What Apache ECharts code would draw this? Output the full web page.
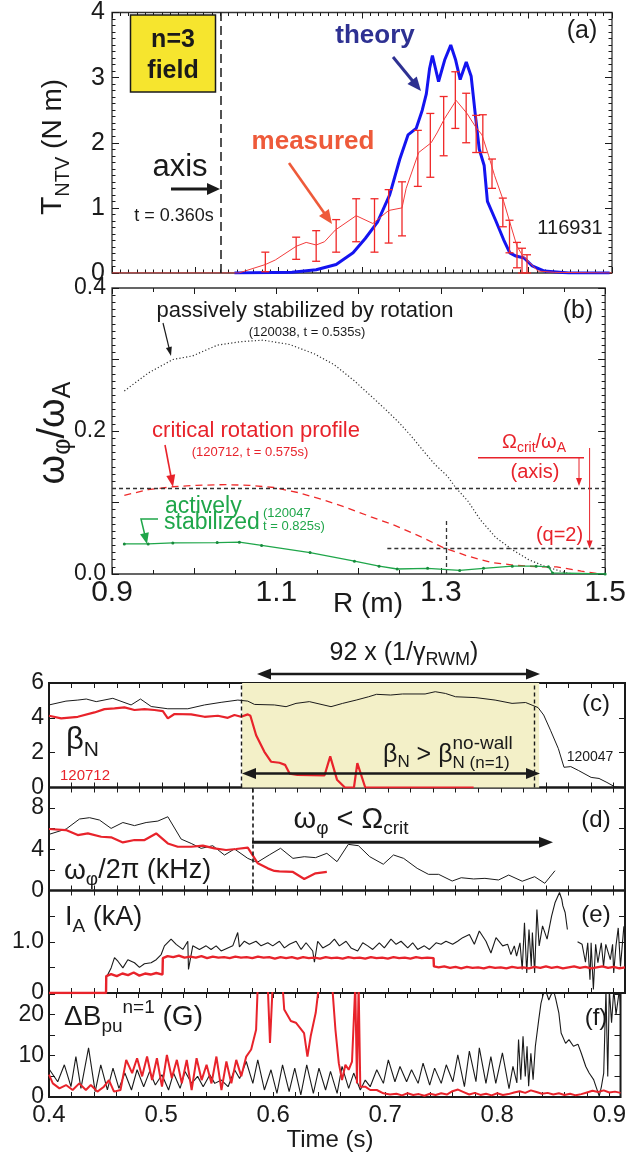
<!DOCTYPE html>
<html><head><meta charset="utf-8">
<script src="https://cdn.jsdelivr.net/npm/echarts@6/dist/echarts.min.js"></script>
<style>html,body{margin:0;padding:0;background:#fff}#c{width:629px;height:1158px}</style>
</head><body><div id="c"></div>
<script>
// ---------- DATA ----------
// (a) NTV torque vs R
const theoryA = [[1.047,0],[1.116,0.01],[1.145,0.05],[1.169,0.13],[1.1893,0.31],[1.2039,0.53],[1.2186,0.78],[1.2332,1.20],[1.2454,1.75],[1.2552,2.12],[1.265,2.22],[1.2723,2.50],[1.2772,2.75],[1.2811,3.14],[1.2845,3.34],[1.2919,2.94],[1.2992,3.27],[1.3065,3.50],[1.3124,3.27],[1.3178,2.97],[1.3251,3.24],[1.331,3.02],[1.3358,2.45],[1.3407,1.90],[1.3466,1.65],[1.3505,1.10],[1.3603,0.81],[1.37,0.51],[1.3774,0.31],[1.3847,0.26],[1.3945,0.23],[1.4042,0.11],[1.4189,0.03],[1.4482,0],[1.4971,0]];
const measuredA = [[0.9,0],[1.052,0],[1.084,0.13],[1.096,0.2],[1.121,0.41],[1.133,0.47],[1.145,0.43],[1.155,0.48],[1.168,0.66],[1.193,0.88],[1.213,0.76],[1.232,0.96],[1.248,1.0],[1.253,1.3],[1.268,1.85],[1.283,2.0],[1.290,2.15],[1.299,2.37],[1.313,2.65],[1.326,2.45],[1.336,2.25],[1.344,2.12],[1.352,1.8],[1.359,1.5],[1.370,1.10],[1.379,0.71],[1.386,0.41],[1.393,0.26],[1.401,0.16],[1.411,0.03],[1.431,0.01],[1.5,0]];
const errR  = [1.084,1.121,1.145,1.169,1.193,1.215,1.232,1.248,1.267,1.282,1.298,1.312,1.325,1.337,1.345,1.356,1.369,1.377,1.386,1.392,1.398];
const errLo = [0.02,0.21,0.18,0.32,0.48,0.32,0.46,0.57,1.33,1.47,1.80,2.22,2.00,1.85,1.85,1.30,0.71,0.31,0.08,0,0];
const errHi = [0.32,0.55,0.65,0.82,1.14,1.14,1.28,1.40,2.19,2.45,2.71,3.09,2.76,2.42,2.43,1.75,1.15,0.81,0.47,0.38,0.28];
const axisR = 1.0336;
// (b) rotation profiles
const passiveB = [[0.915,0.256],[0.944,0.281],[0.974,0.300],[0.998,0.305],[1.028,0.320],[1.057,0.325],[1.084,0.327],[1.116,0.321],[1.146,0.308],[1.170,0.293],[1.195,0.270],[1.215,0.249],[1.232,0.231],[1.249,0.212],[1.264,0.193],[1.279,0.172],[1.293,0.153],[1.308,0.137],[1.318,0.121],[1.333,0.102],[1.348,0.076],[1.367,0.051],[1.387,0.034],[1.407,0.020],[1.426,0.011],[1.451,0.002],[1.461,0]];
const criticalB = [[0.915,0.110],[0.944,0.118],[0.974,0.122],[1.003,0.124],[1.038,0.125],[1.067,0.124],[1.097,0.121],[1.126,0.114],[1.156,0.104],[1.185,0.093],[1.215,0.080],[1.244,0.068],[1.274,0.053],[1.303,0.037],[1.333,0.025],[1.362,0.016],[1.392,0.012],[1.421,0.010],[1.441,0.010],[1.471,0.004],[1.495,0.0]];
const activeB = [[0.915,0.042],[0.944,0.042],[0.974,0.0435],[1.028,0.044],[1.055,0.0445],[1.082,0.040],[1.141,0.030],[1.195,0.018],[1.225,0.011],[1.247,0.007],[1.284,0.008],[1.323,0.005],[1.352,0.008],[1.387,0.011],[1.416,0.011],[1.431,0.010],[1.436,0.0015],[1.5,0]];
const critAxis = 0.124, critQ2 = 0.0355, q2R = 1.307, q2LineStart = 1.235, q2VTop = 0.074;
// (c) beta_N
const betaBlack = [[0.4,4.74],[0.415,4.96],[0.4255,5.02],[0.433,5.08],[0.4418,4.93],[0.4565,5.12],[0.4727,4.74],[0.481,5.08],[0.4905,4.65],[0.5052,4.52],[0.5229,4.52],[0.5377,4.74],[0.5524,4.89],[0.5672,5.02],[0.576,4.96],[0.582,4.77],[0.5996,4.74],[0.6099,4.64],[0.6187,4.83],[0.6305,4.93],[0.6497,4.64],[0.66,4.83],[0.672,5.02],[0.683,5.21],[0.69,5.35],[0.7025,5.31],[0.713,5.37],[0.733,5.37],[0.742,5.5],[0.751,5.4],[0.76,5.21],[0.778,5.16],[0.795,5.02],[0.81,4.83],[0.822,4.88],[0.833,4.59],[0.838,4.16],[0.844,3.29],[0.851,2.23],[0.856,1.16],[0.862,1.2],[0.869,0.97],[0.88,0.58],[0.887,0.52],[0.894,0.29],[0.901,0.04],[0.91,0]];
const betaRed = [[0.4,4.12],[0.4108,3.97],[0.4255,4.06],[0.4403,4.31],[0.4491,4.5],[0.458,4.54],[0.4668,4.6],[0.4757,4.45],[0.4846,4.5],[0.4934,4.45],[0.5008,4.39],[0.5052,3.97],[0.5111,4.22],[0.5259,4.2],[0.5377,4.06],[0.5495,4.12],[0.5583,4.0],[0.5642,4.16],[0.5701,4.06],[0.576,4.2],[0.5783,4.12],[0.5834,3.0],[0.5907,2.05],[0.5966,1.48],[0.604,1.42],[0.609,1.3],[0.613,0.8],[0.62,0.72],[0.644,0.7],[0.649,1.79],[0.655,0.45],[0.662,0],[0.670,0],[0.673,1.4],[0.680,0],[0.776,0]];
const shadeT = [0.571, 0.834];
// (d) rotation frequency
const omegaBlack = [[0.4,5.45],[0.4152,5.97],[0.427,6.94],[0.4359,7.07],[0.4447,6.84],[0.455,6.03],[0.4654,6.6],[0.4757,6.3],[0.486,6.6],[0.4964,6.74],[0.5052,7.16],[0.517,4.99],[0.5259,4.57],[0.5347,4.09],[0.545,4.35],[0.5554,3.44],[0.5642,4.03],[0.576,3.12],[0.5843,2.73],[0.595,3.45],[0.605,4.1],[0.616,3.12],[0.626,3.28],[0.636,3.19],[0.646,3.61],[0.655,2.8],[0.665,4.48],[0.674,4.35],[0.684,3.28],[0.696,2.55],[0.705,3.45],[0.714,3.12],[0.726,2.15],[0.736,1.57],[0.745,1.57],[0.757,0.92],[0.765,1.24],[0.776,1.12],[0.786,1.18],[0.798,1.02],[0.807,1.5],[0.819,0.9],[0.83,1.34],[0.839,0.7],[0.848,1.92]];
const omegaRed = [[0.4,5.97],[0.415,5.87],[0.4255,5.38],[0.4344,5.54],[0.4462,5.22],[0.455,5.16],[0.4654,4.67],[0.4757,4.9],[0.4846,4.9],[0.4949,5.54],[0.5052,4.57],[0.514,4.25],[0.5259,4.25],[0.5362,4.35],[0.5465,4.09],[0.5568,3.93],[0.5657,4.03],[0.576,4.16],[0.5849,2.64],[0.5937,2.15],[0.5996,1.9],[0.604,1.85],[0.616,1.8],[0.626,1.12],[0.636,1.67],[0.646,1.8]];
const critT = 0.580;
// (e) I_A
const iaBlack = [[0.4,0],[0.450,0],[0.4506,0.3],[0.455,0.49],[0.458,0.69],[0.461,0.62],[0.4654,0.49],[0.4698,0.65],[0.4757,0.59],[0.4801,0.50],[0.4845,0.57],[0.4904,0.59],[0.4949,0.65],[0.4993,0.75],[0.5022,0.92],[0.5081,1.05],[0.5126,0.95],[0.5185,0.85],[0.5229,1.01],[0.5235,0.46],[0.5273,0.92],[0.5332,0.85],[0.5391,0.92],[0.5435,0.85],[0.548,0.92],[0.5524,0.82],[0.5583,0.88],[0.5627,0.92],[0.5671,1.18],[0.5686,0.90],[0.573,1.01],[0.5774,0.95],[0.5833,1.01],[0.5878,0.92],[0.5937,0.98],[0.5981,0.92],[0.604,1.01],[0.6084,0.88],[0.6129,0.95],[0.6188,1.01],[0.6232,0.85],[0.6276,0.98],[0.6335,0.82],[0.635,0.6],[0.6379,1.01],[0.6424,0.88],[0.6483,0.95],[0.6527,1.05],[0.6571,0.92],[0.663,1.01],[0.6674,0.88],[0.6733,0.82],[0.6778,0.98],[0.6822,0.92],[0.6866,0.85],[0.6925,0.98],[0.6969,0.88],[0.7028,1.05],[0.7073,0.95],[0.7117,1.01],[0.7176,0.88],[0.722,0.98],[0.7264,0.85],[0.7323,0.92],[0.7368,0.85],[0.7427,0.98],[0.7471,0.95],[0.7515,1.01],[0.7574,0.95],[0.7618,1.01],[0.7663,1.08],[0.7722,1.14],[0.7766,0.95],[0.781,1.21],[0.7869,1.01],[0.7913,0.78],[0.7958,1.08],[0.8017,0.92],[0.8061,0.95],[0.809,0.75],[0.812,0.92],[0.814,0.72],[0.817,0.98],[0.819,0.46],[0.821,1.37],[0.823,0.39],[0.825,1.24],[0.827,0.52],[0.828,1.18],[0.830,0.39],[0.832,1.63],[0.834,0.92],[0.837,1.31],[0.841,1.05],[0.845,1.5],[0.848,1.76],[0.852,1.96],[0.854,1.83],[0.855,1.70],[0.857,1.57],[0.859,1.24],[0.863,null],[0.868,1.0],[0.872,0.95],[0.875,0.6],[0.877,0.98],[0.879,0.26],[0.880,0.98],[0.882,0.07],[0.884,0.95],[0.886,0.59],[0.889,0.98],[0.891,0.52],[0.893,0.95],[0.897,0.65],[0.899,0.95],[0.900,0.39],[0.902,0.92],[0.904,1.27],[0.906,0.52],[0.909,1.3]];
const iaRed = [[0.4,0],[0.4505,0],[0.4507,0.33],[0.455,0.37],[0.46,0.33],[0.465,0.38],[0.47,0.35],[0.475,0.40],[0.48,0.34],[0.485,0.38],[0.49,0.36],[0.495,0.39],[0.5005,0.36],[0.5008,0.68],[0.505,0.72],[0.51,0.70],[0.515,0.73],[0.52,0.69],[0.525,0.71],[0.53,0.69],[0.535,0.72],[0.54,0.68],[0.545,0.71],[0.55,0.69],[0.555,0.70],[0.56,0.68],[0.565,0.71],[0.57,0.69],[0.575,0.70],[0.58,0.68],[0.585,0.71],[0.59,0.69],[0.595,0.70],[0.6,0.67],[0.605,0.70],[0.61,0.68],[0.615,0.70],[0.62,0.67],[0.625,0.70],[0.63,0.68],[0.635,0.69],[0.64,0.67],[0.645,0.70],[0.65,0.68],[0.655,0.69],[0.66,0.67],[0.665,0.70],[0.67,0.68],[0.675,0.69],[0.68,0.67],[0.685,0.70],[0.69,0.68],[0.695,0.69],[0.70,0.67],[0.705,0.70],[0.71,0.68],[0.715,0.69],[0.72,0.67],[0.725,0.70],[0.73,0.68],[0.735,0.69],[0.7405,0.68],[0.7408,0.52],[0.745,0.50],[0.75,0.52],[0.755,0.49],[0.76,0.51],[0.765,0.48],[0.77,0.51],[0.775,0.49],[0.78,0.50],[0.785,0.48],[0.79,0.51],[0.795,0.49],[0.80,0.50],[0.805,0.48],[0.81,0.51],[0.815,0.49],[0.82,0.50],[0.825,0.48],[0.83,0.51],[0.835,0.49],[0.84,0.52],[0.845,0.49],[0.85,0.51],[0.855,0.48],[0.86,0.50],[0.865,0.52],[0.87,0.49],[0.875,0.51],[0.88,0.48],[0.885,0.50],[0.89,0.52],[0.895,0.49],[0.90,0.51],[0.905,0.48],[0.91,0.50]];
// (f) dB_pu
const dbBlack = [[0.4,6.0],[0.4005,6.6],[0.4078,3.7],[0.4137,7.8],[0.4196,2.5],[0.424,9.8],[0.4285,2.1],[0.4353,11.9],[0.4412,1.3],[0.4462,7.8],[0.4521,1.7],[0.4571,7.0],[0.4624,2.1],[0.4677,5.8],[0.4736,1.7],[0.4786,6.6],[0.4845,2.5],[0.4898,6.2],[0.4949,2.9],[0.5008,5.4],[0.5067,1.7],[0.5111,5.8],[0.517,2.1],[0.5214,6.2],[0.5273,3.3],[0.5326,5.0],[0.5376,2.5],[0.5435,5.4],[0.5479,3.3],[0.5538,4.1],[0.5598,2.5],[0.5656,6.6],[0.5701,4.5],[0.576,8.6],[0.5819,3.3],[0.5863,9.0],[0.5922,1.7],[0.5981,6.6],[0.6034,0.9],[0.6084,7.8],[0.6143,1.3],[0.6193,7.0],[0.6247,0.5],[0.63,7.8],[0.6359,0.9],[0.6409,7.0],[0.6468,1.7],[0.6512,6.2],[0.6571,0.9],[0.6615,7.4],[0.6674,2.1],[0.6719,5.8],[0.6778,1.7],[0.6822,4.1],[0.6866,2.5],[0.6925,6.6],[0.6984,3.3],[0.7028,9.0],[0.7087,3.7],[0.7132,7.4],[0.7191,3.7],[0.7235,6.6],[0.7294,3.3],[0.7338,8.2],[0.7397,2.9],[0.7441,7.0],[0.75,3.3],[0.7545,7.8],[0.7604,3.7],[0.7648,10.2],[0.7707,2.5],[0.7751,11.1],[0.781,3.7],[0.784,11.9],[0.7899,3.3],[0.7943,9.8],[0.7987,3.3],[0.8046,10.7],[0.8105,2.0],[0.814,7.4],[0.8175,3.4],[0.819,13.9],[0.821,4.2],[0.823,14.7],[0.825,5],[0.8266,12.3],[0.828,2.6],[0.830,10.6],[0.832,4.2],[0.834,12.3],[0.837,18.7],[0.839,22.7],[0.841,24.8],[0.843,26],[0.846,23.5],[0.850,26],[0.852,24],[0.855,20.3],[0.857,15.5],[0.861,13],[0.864,13.9],[0.868,12.3],[0.872,12.8],[0.875,10.6],[0.879,7.4],[0.882,5.8],[0.886,4.2],[0.890,1],[0.891,0.2],[0.893,2.6],[0.895,5.8],[0.897,26],[0.8986,5],[0.900,26],[0.902,18],[0.904,26],[0.906,20],[0.909,26],[0.91,22]];
const dbRed = [[0.4,5.4],[0.4034,3.3],[0.4093,2.1],[0.4152,2.9],[0.4211,1.7],[0.427,3.3],[0.4329,1.7],[0.4373,2.9],[0.4432,1.3],[0.449,2.5],[0.4535,4.1],[0.458,1.3],[0.4638,1.7],[0.4689,9.0],[0.4742,5.8],[0.4786,9.4],[0.4831,5.0],[0.4875,9.8],[0.492,4.1],[0.4963,9.4],[0.5008,2.5],[0.5052,10.2],[0.5096,4.6],[0.5141,9.0],[0.5185,3.3],[0.5229,9.0],[0.5273,1.7],[0.5317,9.4],[0.5362,4.1],[0.5406,7.8],[0.545,3.3],[0.5494,9.8],[0.5539,1.7],[0.5583,8.6],[0.5627,3.3],[0.5671,9.0],[0.5716,5.0],[0.576,9.8],[0.5804,11.5],[0.5848,16.3],[0.5863,27],[0.5952,27],[0.5972,13.1],[0.5996,27],[0.6084,27],[0.6099,21.2],[0.6158,18.4],[0.6203,18.0],[0.6276,15.5],[0.6306,9.8],[0.6335,14.7],[0.638,20.4],[0.6409,27],[0.6527,27],[0.6556,16.3],[0.6586,8.2],[0.6615,4.1],[0.6645,7.8],[0.6674,6.6],[0.6704,8.6],[0.6733,27],[0.6748,3.3],[0.6763,27],[0.6778,2.5],[0.6822,2.5],[0.6866,1.7],[0.6925,1.7],[0.6984,0.9],[0.7043,0.6],[0.71,0.8],[0.715,0.4],[0.72,0.9],[0.725,0.5],[0.73,0.7],[0.735,0.3],[0.74,0.8],[0.745,0.5],[0.75,0.9],[0.755,0.6],[0.76,1.4],[0.765,1.8],[0.77,1.2],[0.775,0.6],[0.78,1.0],[0.785,0.5],[0.79,0.8],[0.795,0.4],[0.80,0.9],[0.805,0.5],[0.81,0.7],[0.815,1.1],[0.82,1.4],[0.825,1.0],[0.83,1.6],[0.835,1.2],[0.84,0.8],[0.845,1.0],[0.85,0.6],[0.855,0.9],[0.86,0.5],[0.865,0.8],[0.87,0.4],[0.875,0.7],[0.88,1.1],[0.885,1.5],[0.89,1.2],[0.895,1.6],[0.90,1.1],[0.905,1.3],[0.91,1.0]];

// ---------- STYLE / LAYOUT ----------
const FONT = '"Liberation Sans", Arial, Helvetica, sans-serif';
const BLK = '#1a1a1a', RED = '#e8232b', GRN = '#1fa64a', BLUE = '#1414f0', NAVY = '#2e3192', ORNG = '#ee5a3a';
const grids = [
  {left:112, top:6, width:500, height:267, borderColor:'#333', borderWidth:1.3},
  {left:112, top:288, width:500, height:286, borderColor:'#333', borderWidth:1.3},
  {left:49, top:683, width:576, height:104.5, borderColor:BLK, borderWidth:2},
  {left:49, top:787.5, width:576, height:103, borderColor:BLK, borderWidth:2},
  {left:49, top:890.5, width:576, height:102.5, borderColor:BLK, borderWidth:2},
  {left:49, top:993, width:576, height:104, borderColor:BLK, borderWidth:2}
].map(g => Object.assign({show:true, backgroundColor:'transparent', containLabel:false}, g));

const xAxes = [], yAxes = [];
function addAxis(list, dim, gi, o){
  const common = {type:'value', gridIndex:gi, min:o.min, max:o.max, interval:o.interval,
    axisLine:{show:false, onZero:false}, splitLine:{show:false},
    axisTick:{show:true, inside:true, length:o.tl||6, lineStyle:{color:BLK, width:1}},
    minorTick:{show:!!o.ms, splitNumber:o.ms||2, length:o.ml||3, lineStyle:{color:BLK, width:1}},
    minorSplitLine:{show:false}};
  const lab = o.fmt ? {show:true, formatter:o.fmt, fontSize:o.fs, fontFamily:FONT, color:BLK, margin:o.mg} : {show:false};
  list.push(Object.assign({}, common, {position: dim==='x'?'bottom':'left', axisLabel: lab}));
  list.push(Object.assign({}, common, {position: dim==='x'?'top':'right', axisLabel:{show:false}}));
}
// (a)
addAxis(xAxes,'x',0,{min:0.9,max:1.5,interval:0.1,ms:10,tl:6,ml:3.5});
addAxis(yAxes,'y',0,{min:0,max:4,interval:1,ms:10,tl:7,ml:3.5,fmt:v=>String(v),fs:25,mg:7});
// (b)
addAxis(xAxes,'x',1,{min:0.9,max:1.5,interval:0.1,ms:2,tl:6,ml:4,fmt:v=>(Math.round(v*10)%2===1?v.toFixed(1):''),fs:30,mg:4});
addAxis(yAxes,'y',1,{min:0,max:0.4,interval:0.1,ms:10,tl:7,ml:3.5,fmt:v=>(Math.round(v*10)%2===0?v.toFixed(1):''),fs:23,mg:6});
// (c)-(f)
for (let g=2; g<=5; g++){
  addAxis(xAxes,'x',g,{min:0.4,max:0.91,interval:0.02,tl:5,
    fmt: g===5 ? (v=>(Math.round(v*100)%10===0 && v<0.905 ? v.toFixed(1) : '')) : null, fs:24, mg:6});
}
addAxis(yAxes,'y',2,{min:0,max:6,interval:2,tl:6,fmt:v=>String(v),fs:23,mg:5});
addAxis(yAxes,'y',3,{min:0,max:10,interval:2,tl:6,fmt:v=>(v%4===0?String(v):''),fs:23,mg:5});
addAxis(yAxes,'y',4,{min:0,max:2,interval:0.5,tl:6,fmt:v=>(v===0?'0':(v===1?'1.0':'')),fs:23,mg:5});
addAxis(yAxes,'y',5,{min:0,max:25.2,interval:5,tl:6,fmt:v=>(v===0||v===10||v===20?String(v):''),fs:23,mg:5});

function ln(gi, data, color, width, extra){
  return Object.assign({type:'line', xAxisIndex:2*gi, yAxisIndex:2*gi, data, showSymbol:false,
    symbol:'none', lineStyle:{color, width}, z:3, animation:false, silent:true, connectNulls:false}, extra||{});
}
const dashBlk = {type:[4,3], color:'#333', width:1.3};
const series = [
  ln(0, theoryA, BLUE, 3, {markLine:{silent:true, symbol:['none','none'], label:{show:false},
     lineStyle:{type:[9,5], color:BLK, width:1.5}, data:[{xAxis:axisR}]}}),
  ln(0, measuredA, '#f23c3c', 1, {z:4}),
  {type:'custom', xAxisIndex:0, yAxisIndex:0, z:4, silent:true, animation:false,
   data: errR.map((r,i)=>[r, errLo[i], errHi[i]]), encode:{x:0, y:[1,2]},
   renderItem:(p, api)=>{
     const a = api.coord([api.value(0), api.value(1)]), b = api.coord([api.value(0), api.value(2)]);
     const st = {stroke:'#f02828', lineWidth:1.3};
     return {type:'group', children:[
       {type:'line', shape:{x1:a[0],y1:a[1],x2:b[0],y2:b[1]}, style:st},
       {type:'line', shape:{x1:a[0]-4,y1:a[1],x2:a[0]+4,y2:a[1]}, style:st},
       {type:'line', shape:{x1:b[0]-4,y1:b[1],x2:b[0]+4,y2:b[1]}, style:st}]};
   }},
  ln(1, passiveB, '#333', 1.2, {lineStyle:{color:'#333', width:1.2, type:[1.2,2.2]},
     markLine:{silent:true, symbol:['none','none'], label:{show:false}, lineStyle:dashBlk,
       data:[{yAxis:critAxis}, [{coord:[q2LineStart,critQ2]},{coord:[1.5,critQ2]}], [{coord:[q2R,0]},{coord:[q2R,q2VTop]}]]}}),
  ln(1, criticalB, '#ee2a2a', 1.3, {lineStyle:{color:'#ee2a2a', width:1.3, type:[7,5]}}),
  ln(1, activeB, GRN, 1.3, {showSymbol:true, symbol:'circle', symbolSize:3, itemStyle:{color:'#178a3c'}}),
  ln(2, betaBlack, BLK, 1, {
     markArea:{silent:true, itemStyle:{color:'#f3f0c8'}, data:[[{xAxis:shadeT[0]},{xAxis:shadeT[1]}]]},
     markLine:{silent:true, symbol:['none','none'], label:{show:false}, lineStyle:{type:[4,3], color:BLK, width:1.4},
       data:[{xAxis:shadeT[0]},{xAxis:shadeT[1]}]}}),
  ln(2, betaRed, RED, 2.2, {z:4}),
  ln(3, omegaBlack, BLK, 1, {markLine:{silent:true, symbol:['none','none'], label:{show:false},
     lineStyle:{type:[4,3], color:BLK, width:1.6}, data:[{xAxis:critT}]}}),
  ln(3, omegaRed, RED, 2.2, {z:4}),
  ln(4, iaBlack, BLK, 1.1),
  ln(4, iaRed, RED, 2.4, {z:4}),
  ln(5, dbBlack, BLK, 1.1),
  ln(5, dbRed, RED, 2, {z:4})
];

// ---------- annotation helpers ----------
const cv = document.createElement('canvas').getContext('2d');
function tw(t, s, b){ cv.font = (b?'bold ':'') + s + 'px ' + FONT; return cv.measureText(t).width; }
function rich(x, y, parts, o){
  o = o || {};
  let cx = 0; const items = [];
  parts.forEach(p => {
    const t=p[0], s=p[1], dy=p[2]||0, st=p[3];
    const w = tw(t, s, o.bold);
    let px = cx;
    if (st && items.length) px = items[items.length-1].px;
    items.push({t,s,dy,px,w});
    cx = Math.max(cx, px + w);
  });
  const x0 = o.align === 'center' ? -cx/2 : (o.align === 'right' ? -cx : 0);
  return {type:'group', x, y, rotation:o.rot||0, children: items.map(it => ({
    type:'text', x:x0+it.px, y:it.dy, z:50,
    style:{text:it.t, fontSize:it.s, fontFamily:FONT, fontWeight:o.bold?'bold':'normal', fill:o.color||BLK, align:'left', verticalAlign:'middle'}}))};
}
function txt(x, y, t, s, color, bold, align){ return rich(x, y, [[t, s, 0]], {color, bold, align: align||'center'}); }
function head(tip, from, hl, hw, col){
  const dx=tip[0]-from[0], dy=tip[1]-from[1], L=Math.hypot(dx,dy), ux=dx/L, uy=dy/L;
  const bx=tip[0]-ux*hl, by=tip[1]-uy*hl;
  return {type:'polygon', z:51, shape:{points:[tip,[bx-uy*hw/2, by+ux*hw/2],[bx+uy*hw/2, by-ux*hw/2]]}, style:{fill:col}};
}
function arrow(pts, col, w, hl, hw, both){
  const n = pts.length;
  const sh = (a, b, d) => { const dx=b[0]-a[0], dy=b[1]-a[1], L=Math.hypot(dx,dy); return [b[0]-dx/L*d, b[1]-dy/L*d]; };
  const p = pts.map(q => q.slice());
  p[n-1] = sh(pts[n-2], pts[n-1], hl*0.7);
  if (both) p[0] = sh(pts[1], pts[0], hl*0.7);
  const els = [{type:'polyline', z:50, shape:{points:p}, style:{stroke:col, lineWidth:w, fill:null}}, head(pts[n-1], pts[n-2], hl, hw, col)];
  if (both) els.push(head(pts[0], pts[1], hl, hw, col));
  return els;
}
function seg(x1,y1,x2,y2,col,w){ return {type:'line', z:50, shape:{x1,y1,x2,y2}, style:{stroke:col, lineWidth:w}}; }

const G = [];
// (a)
G.push({type:'rect', z:40, shape:{x:130.5, y:15, width:85, height:77}, style:{fill:'#f6e52e', stroke:BLK, lineWidth:1.5}});
G.push(txt(173, 40, 'n=3', 25, BLK, true));
G.push(txt(173, 71, 'field', 25, BLK, true));
G.push(txt(180, 167, 'axis', 31, BLK));
G.push(...arrow([[171,189],[220,189]], BLK, 3, 13, 12));
G.push(txt(174, 216, 't = 0.360s', 18, BLK));
G.push(txt(375, 36, 'theory', 26, NAVY, true));
G.push(...arrow([[393,57],[421,91]], NAVY, 3, 14, 12));
G.push(txt(313, 142, 'measured', 26, ORNG, true));
G.push(...arrow([[289,163],[332,224]], ORNG, 2.6, 14, 12));
G.push(txt(570, 228, '116931', 20, BLK));
G.push(txt(582, 31, '(a)', 25, BLK));
G.push(rich(53, 147, [['T',30,0],['NTV',20,10],[' (N m)',28,0]], {rot:Math.PI/2, align:'center'}));
// (b)
G.push(rich(54, 433, [['ω',38,0],['φ',25,9],['/ω',38,0],['A',25,9]], {rot:Math.PI/2, align:'center'}));
G.push(txt(305, 311, 'passively stabilized by rotation', 22, BLK));
G.push(txt(307, 332, '(120038, t = 0.535s)', 13, BLK));
G.push(...arrow([[163,323],[171,356]], BLK, 1.2, 9, 6));
G.push(txt(256, 431, 'critical rotation profile', 22, RED));
G.push(txt(250, 452, '(120712, t = 0.575s)', 13, RED));
G.push(...arrow([[165,445],[173,487]], RED, 1.6, 12, 9));
G.push(txt(165, 507, 'actively', 23, GRN, false, 'left'));
G.push(txt(164, 523, 'stabilized', 23, GRN, false, 'left'));
G.push(txt(263, 513, '(120047', 13, GRN, false, 'left'));
G.push(txt(263, 526, 't = 0.825s)', 13, GRN, false, 'left'));
G.push(...arrow([[158,519],[141,519],[147,544]], GRN, 1.5, 11, 9));
G.push(rich(534, 442, [['Ω',20,0],['crit',14,6],['/ω',20,0],['A',14,6]], {color:RED, align:'center'}));
G.push(seg(478, 457.7, 584, 457.7, RED, 1.5));
G.push(...arrow([[579,457.7],[579,486]], RED, 1, 8, 6));
G.push(...arrow([[589.6,448],[589.6,548.5]], RED, 1, 8, 6));
G.push(txt(535, 472, '(axis)', 20, RED));
G.push(txt(559.5, 535, '(q=2)', 20, RED));
G.push(txt(578, 311, '(b)', 25, BLK));
G.push(txt(368, 604, 'R (m)', 28, BLK));
// (c)
G.push(rich(404, 653, [['92 x (1/γ',25,0],['RWM',18,7],[')',25,0]], {align:'center'}));
G.push(...arrow([[257,674],[540,674]], BLK, 2.6, 14, 11, true));
G.push(...arrow([[242,773.5],[540,773.5]], BLK, 2.6, 14, 11, true));
G.push(rich(383, 755, [['β',25,0],['N',17,7],[' > β',25,0],['no-wall',19,-11],['N (n=1)',17,8,true]], {}));
G.push(rich(66, 740, [['β',31,0],['N',21,10]], {}));
G.push(txt(85, 776, '120712', 15, RED));
G.push(txt(590, 757, '120047', 14, BLK));
G.push(txt(596, 704, '(c)', 24, BLK));
// (d)
G.push(rich(351, 820, [['ω',29,0],['φ',19,9],[' < Ω',29,0],['crit',19,9]], {align:'center'}));
G.push(...arrow([[252,842.3],[553,842.3]], BLK, 3, 14, 11));
G.push(rich(64, 871, [['ω',28,0],['φ',19,9],['/2π (kHz)',27,0]], {}));
G.push(txt(596, 820, '(d)', 24, BLK));
// (e)
G.push(rich(65, 918, [['I',27,0],['A',19,9],[' (kA)',27,0]], {}));
G.push(txt(596, 915, '(e)', 24, BLK));
// (f)
G.push(rich(64, 1017, [['ΔB',28,0],['pu',19,10],['n=1',19,-9],[' (G)',28,0]], {}));
G.push(txt(596, 1018, '(f)', 24, BLK));
G.push(txt(330, 1140, 'Time (s)', 24, BLK));

const chart = echarts.init(document.getElementById('c'), null, {renderer:'canvas'});
chart.setOption({
  animation:false,
  backgroundColor:'#fff',
  textStyle:{fontFamily:FONT},
  grid: grids, xAxis: xAxes, yAxis: yAxes, series: series,
  graphic: {elements: G}
});
</script>
</body></html>
